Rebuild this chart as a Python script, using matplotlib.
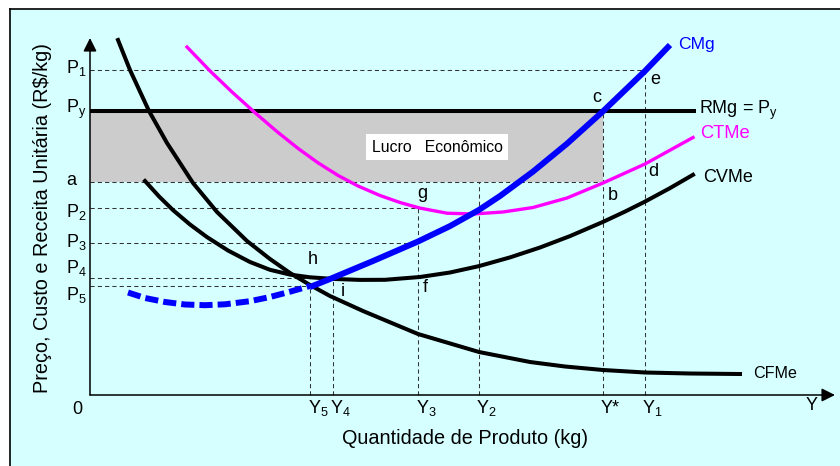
import matplotlib
matplotlib.use('Agg')
import matplotlib.pyplot as plt
from matplotlib.patches import Rectangle
from matplotlib.lines import Line2D

plt.rcParams['font.family'] = ['Liberation Sans', 'DejaVu Sans']
plt.rcParams['mathtext.fontset'] = 'custom'
plt.rcParams['mathtext.rm'] = 'Liberation Sans'
plt.rcParams['mathtext.it'] = 'Liberation Sans'

# price levels (vertical axis)
P1, Py, a, P2, P3, P4, P5 = 32.5, 28.4, 21.3, 18.7, 15.2, 11.7, 10.9
# quantities (horizontal axis)
Y5, Y4, Y3, Y2, Ystar, Y1 = 22.0, 24.3, 32.8, 38.9, 51.3, 55.5

# cost curves
cfme_x = [2.8, 4.0, 5.9, 7.7, 10.3, 12.7, 15.7, 18.0, 20.0, 22.0, 24.0, 27.3, 32.8,
          38.9, 44.0, 47.5, 51.3, 55.5, 60.0, 65.0]
cfme_y = [35.5, 32.5, 28.4, 25.2, 21.2, 18.3, 15.4, 13.6, 12.2, 11.0, 9.9, 8.4, 6.1,
          4.3, 3.3, 2.85, 2.5, 2.25, 2.15, 2.1]

cvme_x = [5.5, 6.9, 8.3, 10.0, 11.7, 13.8, 16.0, 18.0, 20.0, 22.0, 24.3, 27.0, 29.5,
          33.0, 36.0, 38.9, 42.0, 45.0, 48.0, 51.3, 53.5, 55.5, 58.0, 60.3]
cvme_y = [21.4, 19.86, 18.49, 17.05, 15.79, 14.45, 13.3, 12.52, 12.04, 11.77, 11.61, 11.51, 11.52,
          11.8, 12.25, 12.89, 13.76, 14.75, 15.89, 17.31, 18.34, 19.34, 20.69, 22.02]

ctme_x = [9.7, 12.0, 14.2, 16.5, 18.7, 20.8, 22.8, 24.8, 26.8, 29.0, 31.0, 33.0, 35.7,
          38.3, 41.3, 44.3, 47.7, 51.3, 55.5, 60.3]
ctme_y = [34.8, 32.41, 30.3, 28.23, 26.34, 24.66, 23.22, 21.96, 20.9, 19.95, 19.25, 18.69, 18.18,
          18.1, 18.3, 18.75, 19.7, 21.2, 23.1, 25.75]

cmg_x = [22.0, 24.0, 28.3, 32.8, 36.0, 38.9, 41.0, 44.3, 47.7, 51.3, 55.5, 58.0]
cmg_y = [10.8, 11.6, 13.4, 15.35, 16.89, 18.51, 19.9, 22.34, 25.13, 28.37, 32.4, 35.0]

cmg_dash_x = [3.8, 5.5, 7.5, 9.5, 11.5, 13.5, 16.0, 18.0, 20.0, 22.0]
cmg_dash_y = [10.25, 9.7, 9.3, 9.05, 8.98, 9.07, 9.38, 9.8, 10.33, 10.9]

rmg_end = 60.6
x_max, y_max = 74.5, 35.7

p_labels = [r'$\mathregular{P_1}$', r'$\mathregular{P_y}$', 'a', r'$\mathregular{P_2}$',
            r'$\mathregular{P_3}$', r'$\mathregular{P_4}$', r'$\mathregular{P_5}$']
p_values = [P1, Py, a, P2, P3, P4, P5]
p_shift = [0.3, 0.2, 0.3, 0.9, 0.4, -0.5, 1.4]  # baseline shift (label crowding)

y_labels = [r'$\mathregular{Y_5}$', r'$\mathregular{Y_4}$', r'$\mathregular{Y_3}$',
            r'$\mathregular{Y_2}$', 'Y*', r'$\mathregular{Y_1}$']
y_values = [Y5, Y4, Y3, Y2, Ystar, Y1]

fig = plt.figure(figsize=(8.4, 4.66), dpi=100)
fig.patch.set_facecolor('white')
fig.patches.append(Rectangle((10/840, 0), 830/840, 1 - 9/466, transform=fig.transFigure,
                             facecolor='#D6FFFF', edgecolor='none', zorder=-2))
fig.lines.append(Line2D([10/840, 1], [1 - 9/466, 1 - 9/466], transform=fig.transFigure,
                        color='black', lw=1.2, zorder=-1))
fig.lines.append(Line2D([10/840, 10/840], [0, 1 - 9/466], transform=fig.transFigure,
                        color='black', lw=1.2, zorder=-1))

ax = fig.add_axes([0, 0, 1, 1])
ax.set_facecolor('none')
ax.set_xlim(-9.0, 75.0)
ax.set_ylim(-7.1, 39.5)
ax.axis('off')

# profit area
ax.fill_between([0, Ystar], a, Py, color='#CCCCCC', lw=0, zorder=1)

# guide lines
dash = dict(color='#333333', lw=0.75, dashes=(4, 3), zorder=2)
ax.plot([0, Y1], [P1, P1], **dash)
ax.plot([Y1, Y1], [0, P1], **dash)
ax.plot([0, Ystar], [a, a], **dash)
ax.plot([Ystar, Ystar], [0, Py], **dash)
ax.plot([0, Y3], [P2, P2], **dash)
ax.plot([Y3, Y3], [0, P2], **dash)
ax.plot([Y2, Y2], [0, a], **dash)
ax.plot([0, Y3], [P3, P3], **dash)
ax.plot([0, Y4], [P4, P4], **dash)
ax.plot([Y4, Y4], [0, P4], **dash)
ax.plot([0, Y5], [P5, P5], **dash)
ax.plot([Y5, Y5], [0, P5], **dash)

# axes with arrows
arr = dict(arrowstyle='-|>,head_length=0.8,head_width=0.4', lw=1.1, color='black',
           shrinkA=0, shrinkB=0)
ax.annotate('', xy=(0, y_max), xytext=(0, 0), arrowprops=arr, zorder=3)
ax.annotate('', xy=(x_max, 0), xytext=(0, 0), arrowprops=arr, zorder=3)

# curves
ax.plot([0, rmg_end], [Py, Py], color='black', lw=2.9, solid_capstyle='butt', zorder=4)
ax.plot(cfme_x, cfme_y, color='black', lw=2.9, solid_joinstyle='round', zorder=4)
ax.plot(cvme_x, cvme_y, color='black', lw=2.9, solid_joinstyle='round', zorder=4)
ax.plot(ctme_x, ctme_y, color='#FF00FF', lw=2.4, solid_joinstyle='round', zorder=5)
ax.plot(cmg_x, cmg_y, color='#0000FF', lw=4.3, solid_joinstyle='round',
        solid_capstyle='butt', zorder=6)
ax.plot(cmg_dash_x, cmg_dash_y, color='#0000FF', lw=4.3, dashes=(2.2, 0.85),
        dash_capstyle='butt', zorder=6)

# text
ax.text(34.7, 24.8, 'Lucro   Econômico', fontsize=11.4,
        ha='center', va='center', zorder=7,
        bbox=dict(boxstyle='square,pad=0.35', fc='white', ec='none'))

for lab, v, s in zip(p_labels, p_values, p_shift):
    ax.text(-2.4, v - s, lab, fontsize=13, ha='left', va='baseline')
for lab, v in zip(y_labels, y_values):
    ax.text(v - 0.25, -1.8, lab, fontsize=13, ha='left', va='baseline')
ax.text(-1.3, -1.4, '0', fontsize=13, ha='center', va='center')
ax.text(72.2, -1.1, 'Y', fontsize=13, ha='center', va='center')

ax.text(50.7, 29.7, 'c', fontsize=13, ha='center', va='center')
ax.text(56.5, 31.5, 'e', fontsize=13, ha='center', va='center')
ax.text(52.3, 20.0, 'b', fontsize=13, ha='center', va='center')
ax.text(56.3, 22.3, 'd', fontsize=13, ha='center', va='center')
ax.text(33.2, 20.2, 'g', fontsize=13, ha='center', va='center')
ax.text(33.5, 10.8, 'f', fontsize=13, ha='center', va='center')
ax.text(22.3, 13.5, 'h', fontsize=13, ha='center', va='center')
ax.text(25.3, 10.3, 'i', fontsize=13, ha='center', va='center')

ax.text(58.8, 35.0, 'CMg', color='#0000FF', fontsize=12.6, ha='left', va='center')
ax.text(60.9, 28.5, r'RMg = $\mathregular{P_y}$', fontsize=13, ha='left', va='center')
ax.text(61.0, 26.2, 'CTMe', color='#FF00FF', fontsize=13.2, ha='left', va='center')
ax.text(61.3, 21.8, 'CVMe', fontsize=13, ha='left', va='center')
ax.text(66.3, 2.1, 'CFMe', fontsize=11.6, ha='left', va='center')

ax.text(37.5, -4.3, 'Quantidade de Produto (kg)', fontsize=14.3, ha='center', va='center')
ax.text(-4.7, 17.7, 'Preço, Custo e Receita Unitária (R$/kg)', fontsize=14.3,
        rotation=90, ha='center', va='center')

plt.savefig('out.png', dpi=100)
